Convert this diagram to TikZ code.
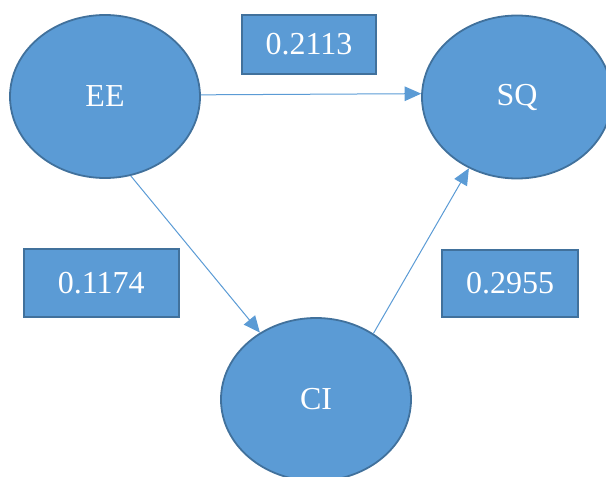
\documentclass[tikz,border=0pt]{standalone}
\usepackage{fontspec}
\setmainfont{Liberation Serif}
\usetikzlibrary{shapes.geometric,arrows.meta}
\definecolor{fillblue}{HTML}{5B9BD5}
\definecolor{edgeblue}{HTML}{41719C}
\tikzset{
  construct/.style={ellipse, draw=edgeblue, fill=fillblue, line width=1.8pt,
    minimum width=190pt, minimum height=163pt, inner sep=0pt, text=white,
    font=\fontsize{32}{38}\selectfont},
  coefbox/.style={rectangle, draw=edgeblue, fill=fillblue, line width=1.8pt,
    inner sep=0pt, text=white, font=\fontsize{32}{38}\selectfont},
  link/.style={draw=fillblue, line width=1pt,
    -{Triangle[length=16.5pt,width=14.5pt]}}
}
\begin{document}
\begin{tikzpicture}[x=1pt,y=-1pt]
\clip (0,0) rectangle (606,477);
\node[construct] (EE) at (105,96.5) {EE};
\node[construct] (SQ) at (517,97) {SQ};
\node[construct] (CI) at (316,399.5) {CI};
\node[coefbox, minimum width=134pt, minimum height=59pt] (b1) at (309,44.5) {0.2113};
\node[coefbox, minimum width=155pt, minimum height=68pt] (b2) at (101.3,283) {0.1174};
\node[coefbox, minimum width=136pt, minimum height=67pt] (b3) at (510,283.5) {0.2955};
\draw[link] (EE.1.5) -- (SQ.178.5);
\draw[link] (EE.-72) -- (CI.130);
\draw[link] (CI.49) -- (SQ.-124);
\end{tikzpicture}
\end{document}
